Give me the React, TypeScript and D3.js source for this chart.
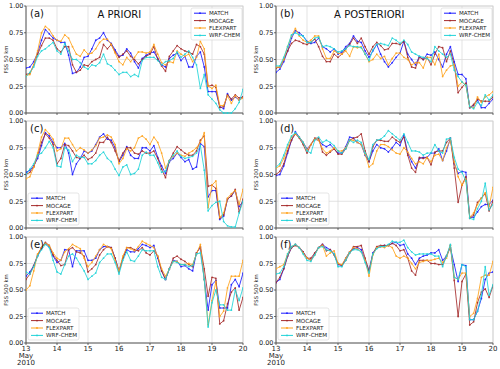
import React from "react";
import * as d3 from "d3";

// Time axis: 3-hourly values from 13 May 00 UTC to 20 May 00 UTC
const dayTicks = [13, 14, 15, 16, 17, 18, 19, 20];
const yTicks = [0, 0.25, 0.5, 0.75, 1.0];
const seriesNames = ["MATCH", "MOCAGE", "FLEXPART", "WRF-CHEM"];
const seriesColors = ["#1a1aff", "#a52a2a", "#ffa21a", "#1fd3d8"];
const panelLabels = ["(a)", "(b)", "(c)", "(d)", "(e)", "(f)"];
const panelYLabels = ["FSS 50 km", "FSS 50 km", "FSS 200 km", "FSS 200 km", "FSS 500 km", "FSS 500 km"];
const columnTitles = ["A PRIORI", "A POSTERIORI"];

// (a) A PRIORI, 50 km
const aMatch = [0.42,0.43,0.48,0.56,0.68,0.78,0.74,0.70,0.68,0.66,0.66,0.54,0.37,0.38,0.43,0.52,0.53,0.60,0.68,0.70,0.75,0.68,0.65,0.59,0.53,0.54,0.60,0.56,0.48,0.42,0.51,0.54,0.56,0.57,0.51,0.45,0.43,0.51,0.54,0.56,0.49,0.53,0.43,0.43,0.53,0.57,0.43,0.20,0.20,0.20,0.06,0.04,0.18,0.12,0.15,0.12,0.15];
const aMocage = [0.36,0.37,0.45,0.55,0.63,0.70,0.70,0.68,0.60,0.57,0.62,0.62,0.45,0.38,0.40,0.45,0.44,0.48,0.50,0.52,0.64,0.60,0.64,0.57,0.52,0.55,0.58,0.53,0.50,0.46,0.50,0.53,0.55,0.62,0.50,0.44,0.39,0.53,0.58,0.63,0.60,0.58,0.57,0.55,0.64,0.62,0.55,0.25,0.26,0.24,0.05,0.06,0.17,0.13,0.17,0.14,0.15];
const aFlex = [0.35,0.36,0.45,0.58,0.75,0.81,0.78,0.72,0.68,0.67,0.73,0.70,0.62,0.55,0.53,0.59,0.55,0.56,0.60,0.66,0.69,0.69,0.64,0.56,0.48,0.45,0.52,0.48,0.52,0.57,0.57,0.56,0.57,0.64,0.55,0.47,0.45,0.48,0.47,0.58,0.55,0.53,0.55,0.48,0.52,0.67,0.60,0.25,0.23,0.26,0.07,0.07,0.16,0.09,0.16,0.12,0.14];
const aWrf = [0.34,0.38,0.43,0.53,0.58,0.60,0.63,0.66,0.58,0.55,0.65,0.58,0.50,0.50,0.47,0.43,0.41,0.45,0.44,0.47,0.55,0.46,0.44,0.40,0.36,0.38,0.38,0.34,0.36,0.34,0.49,0.52,0.52,0.52,0.49,0.45,0.48,0.49,0.51,0.57,0.52,0.55,0.58,0.52,0.45,0.23,0.36,0.17,0.13,0.09,0.03,0.00,0.00,0.00,0.04,0.10,0.22];

// (b) A POSTERIORI, 50 km
const bMatch = [0.38,0.41,0.48,0.58,0.70,0.77,0.75,0.72,0.67,0.65,0.66,0.70,0.62,0.60,0.57,0.60,0.55,0.57,0.62,0.65,0.72,0.67,0.66,0.58,0.52,0.58,0.64,0.55,0.48,0.43,0.47,0.52,0.56,0.67,0.55,0.50,0.45,0.53,0.50,0.55,0.54,0.57,0.50,0.43,0.55,0.62,0.48,0.36,0.36,0.32,0.05,0.07,0.12,0.05,0.05,0.09,0.13];
const bMocage = [0.42,0.43,0.50,0.58,0.65,0.68,0.67,0.65,0.64,0.66,0.69,0.62,0.53,0.48,0.48,0.55,0.52,0.55,0.60,0.64,0.70,0.65,0.70,0.62,0.55,0.62,0.66,0.63,0.59,0.60,0.65,0.65,0.64,0.67,0.52,0.43,0.42,0.52,0.50,0.52,0.45,0.55,0.62,0.61,0.48,0.58,0.45,0.19,0.24,0.28,0.05,0.08,0.13,0.11,0.11,0.11,0.15];
const bFlex = [0.43,0.43,0.50,0.62,0.72,0.79,0.72,0.68,0.66,0.68,0.72,0.72,0.60,0.51,0.51,0.58,0.56,0.55,0.58,0.53,0.62,0.61,0.62,0.55,0.48,0.50,0.55,0.51,0.53,0.45,0.51,0.56,0.56,0.52,0.50,0.45,0.47,0.47,0.42,0.52,0.52,0.45,0.55,0.34,0.40,0.44,0.45,0.25,0.29,0.26,0.06,0.05,0.15,0.10,0.15,0.17,0.20];
const bWrf = [0.44,0.44,0.52,0.62,0.73,0.75,0.73,0.72,0.66,0.66,0.70,0.71,0.62,0.63,0.62,0.60,0.57,0.58,0.60,0.63,0.62,0.62,0.61,0.55,0.49,0.59,0.64,0.65,0.64,0.63,0.70,0.68,0.65,0.68,0.64,0.57,0.55,0.53,0.52,0.51,0.48,0.62,0.58,0.55,0.52,0.55,0.40,0.34,0.29,0.26,0.06,0.04,0.10,0.07,0.17,0.12,0.17];

// (c) A PRIORI, 200 km
const cMatch = [0.52,0.54,0.58,0.65,0.77,0.89,0.86,0.80,0.75,0.75,0.79,0.70,0.50,0.60,0.65,0.72,0.70,0.72,0.78,0.85,0.88,0.83,0.82,0.75,0.62,0.68,0.76,0.68,0.65,0.65,0.75,0.75,0.72,0.77,0.66,0.58,0.51,0.62,0.65,0.70,0.66,0.62,0.64,0.55,0.57,0.79,0.76,0.29,0.35,0.35,0.08,0.11,0.27,0.30,0.35,0.20,0.25];
const cMocage = [0.50,0.52,0.57,0.68,0.80,0.88,0.84,0.78,0.60,0.65,0.78,0.77,0.72,0.66,0.65,0.68,0.64,0.66,0.70,0.80,0.80,0.85,0.80,0.72,0.63,0.70,0.75,0.75,0.70,0.69,0.72,0.70,0.70,0.72,0.65,0.55,0.47,0.63,0.70,0.76,0.73,0.70,0.68,0.68,0.72,0.82,0.86,0.39,0.40,0.37,0.09,0.12,0.27,0.30,0.36,0.15,0.27];
const cFlex = [0.46,0.48,0.57,0.70,0.85,0.92,0.88,0.83,0.72,0.74,0.84,0.84,0.78,0.72,0.75,0.73,0.70,0.73,0.77,0.84,0.85,0.87,0.85,0.78,0.60,0.65,0.74,0.72,0.75,0.84,0.86,0.83,0.78,0.85,0.80,0.70,0.56,0.63,0.67,0.70,0.68,0.67,0.70,0.72,0.75,0.80,0.89,0.19,0.40,0.44,0.10,0.14,0.28,0.32,0.35,0.22,0.36];
const cWrf = [0.50,0.55,0.60,0.68,0.70,0.75,0.81,0.75,0.58,0.57,0.75,0.73,0.62,0.68,0.66,0.66,0.60,0.60,0.63,0.68,0.71,0.65,0.62,0.55,0.49,0.57,0.59,0.50,0.51,0.55,0.68,0.71,0.68,0.68,0.61,0.52,0.53,0.63,0.68,0.72,0.67,0.65,0.66,0.67,0.70,0.77,0.54,0.16,0.21,0.24,0.25,0.06,0.02,0.01,0.01,0.14,0.25];

// (d) A POSTERIORI, 200 km
const dMatch = [0.49,0.50,0.58,0.70,0.82,0.90,0.85,0.80,0.74,0.78,0.83,0.82,0.78,0.76,0.78,0.74,0.70,0.70,0.76,0.85,0.84,0.80,0.78,0.68,0.62,0.72,0.78,0.75,0.74,0.71,0.75,0.80,0.77,0.87,0.70,0.62,0.56,0.65,0.66,0.66,0.70,0.70,0.74,0.63,0.72,0.84,0.60,0.51,0.53,0.52,0.10,0.10,0.15,0.20,0.22,0.22,0.26];
const dMocage = [0.50,0.53,0.60,0.72,0.82,0.88,0.84,0.78,0.70,0.78,0.84,0.84,0.71,0.68,0.71,0.74,0.69,0.69,0.74,0.82,0.84,0.85,0.88,0.72,0.62,0.76,0.82,0.82,0.81,0.81,0.85,0.82,0.80,0.85,0.68,0.56,0.52,0.66,0.65,0.66,0.59,0.71,0.72,0.72,0.80,0.84,0.56,0.24,0.40,0.48,0.09,0.12,0.24,0.28,0.32,0.16,0.25];
const dFlex = [0.56,0.58,0.65,0.75,0.85,0.88,0.85,0.80,0.73,0.78,0.83,0.82,0.74,0.70,0.72,0.75,0.72,0.72,0.75,0.82,0.82,0.80,0.78,0.69,0.57,0.60,0.72,0.78,0.78,0.76,0.73,0.70,0.69,0.75,0.71,0.65,0.60,0.62,0.60,0.66,0.62,0.68,0.69,0.63,0.75,0.82,0.62,0.48,0.40,0.46,0.10,0.14,0.22,0.28,0.33,0.20,0.38];
const dWrf = [0.57,0.60,0.68,0.78,0.86,0.89,0.85,0.80,0.72,0.70,0.82,0.85,0.80,0.82,0.80,0.77,0.72,0.70,0.74,0.82,0.80,0.82,0.80,0.70,0.64,0.78,0.82,0.83,0.86,0.91,0.88,0.85,0.82,0.88,0.80,0.72,0.72,0.71,0.68,0.70,0.70,0.78,0.72,0.70,0.83,0.84,0.66,0.55,0.52,0.44,0.09,0.08,0.18,0.25,0.42,0.17,0.22];

// (e) A PRIORI, 500 km
const eMatch = [0.63,0.67,0.73,0.82,0.90,0.94,0.91,0.82,0.76,0.78,0.88,0.88,0.72,0.87,0.87,0.87,0.78,0.78,0.80,0.88,0.91,0.91,0.90,0.80,0.68,0.80,0.88,0.86,0.86,0.89,0.93,0.92,0.90,0.92,0.80,0.68,0.60,0.70,0.78,0.77,0.72,0.73,0.70,0.68,0.85,0.90,0.60,0.31,0.55,0.59,0.33,0.33,0.33,0.55,0.60,0.53,0.66];
const eMocage = [0.60,0.65,0.73,0.83,0.90,0.95,0.92,0.83,0.78,0.73,0.74,0.88,0.90,0.86,0.85,0.82,0.67,0.70,0.74,0.83,0.88,0.91,0.90,0.80,0.67,0.80,0.90,0.90,0.88,0.87,0.90,0.85,0.83,0.87,0.82,0.68,0.60,0.70,0.80,0.82,0.79,0.77,0.74,0.72,0.85,0.91,0.70,0.44,0.62,0.61,0.18,0.21,0.37,0.48,0.52,0.31,0.43];
const eFlex = [0.50,0.54,0.68,0.84,0.90,0.94,0.92,0.85,0.80,0.78,0.86,0.89,0.93,0.91,0.89,0.80,0.72,0.76,0.82,0.88,0.93,0.91,0.89,0.78,0.68,0.82,0.90,0.89,0.87,0.91,0.96,0.94,0.92,0.90,0.82,0.70,0.63,0.70,0.77,0.77,0.74,0.74,0.75,0.74,0.84,0.93,0.60,0.17,0.40,0.58,0.25,0.30,0.52,0.63,0.63,0.63,0.78];
const eWrf = [0.67,0.65,0.72,0.82,0.88,0.93,0.90,0.78,0.67,0.65,0.74,0.82,0.84,0.80,0.74,0.68,0.60,0.63,0.66,0.76,0.80,0.84,0.84,0.76,0.65,0.78,0.86,0.78,0.77,0.82,0.88,0.87,0.87,0.87,0.72,0.62,0.60,0.70,0.77,0.76,0.74,0.74,0.72,0.73,0.84,0.85,0.60,0.15,0.38,0.50,0.36,0.36,0.31,0.31,0.50,0.40,0.52];

// (f) A POSTERIORI, 500 km
const fMatch = [0.57,0.60,0.70,0.82,0.90,0.93,0.90,0.86,0.80,0.78,0.84,0.90,0.93,0.90,0.88,0.84,0.74,0.73,0.80,0.86,0.89,0.90,0.88,0.78,0.68,0.85,0.90,0.91,0.92,0.92,0.94,0.95,0.92,0.93,0.84,0.80,0.74,0.80,0.82,0.83,0.85,0.85,0.88,0.78,0.82,0.90,0.74,0.58,0.74,0.73,0.22,0.22,0.30,0.42,0.60,0.66,0.67];
const fMocage = [0.57,0.62,0.70,0.82,0.90,0.92,0.90,0.86,0.80,0.80,0.85,0.90,0.93,0.87,0.88,0.83,0.75,0.73,0.78,0.85,0.91,0.91,0.92,0.80,0.68,0.84,0.91,0.92,0.92,0.92,0.94,0.92,0.87,0.88,0.80,0.68,0.64,0.78,0.78,0.78,0.75,0.75,0.74,0.74,0.82,0.92,0.59,0.25,0.58,0.65,0.17,0.20,0.38,0.48,0.51,0.43,0.54];
const fFlex = [0.70,0.72,0.74,0.84,0.91,0.93,0.90,0.85,0.80,0.78,0.83,0.90,0.92,0.82,0.85,0.87,0.75,0.74,0.80,0.86,0.90,0.89,0.86,0.78,0.63,0.83,0.90,0.91,0.90,0.92,0.90,0.82,0.80,0.82,0.80,0.75,0.70,0.76,0.77,0.78,0.78,0.79,0.80,0.76,0.80,0.92,0.62,0.60,0.66,0.66,0.25,0.28,0.42,0.62,0.64,0.64,0.77];
const fWrf = [0.65,0.66,0.72,0.84,0.91,0.93,0.90,0.84,0.78,0.77,0.83,0.90,0.91,0.88,0.87,0.84,0.72,0.72,0.78,0.85,0.88,0.88,0.86,0.76,0.66,0.84,0.89,0.91,0.91,0.93,0.96,0.95,0.95,0.97,0.90,0.86,0.83,0.84,0.84,0.84,0.84,0.82,0.82,0.72,0.82,0.93,0.62,0.60,0.74,0.72,0.22,0.22,0.30,0.45,0.72,0.45,0.55];

const panelSeries = [
  [aMatch, aMocage, aFlex, aWrf],
  [bMatch, bMocage, bFlex, bWrf],
  [cMatch, cMocage, cFlex, cWrf],
  [dMatch, dMocage, dFlex, dWrf],
  [eMatch, eMocage, eFlex, eWrf],
  [fMatch, fMocage, fFlex, fWrf],
];

const STEP_DAYS = 3 / 24;
const FONT = "DejaVu Sans, Liberation Sans, sans-serif";

const colX = [[26, 243], [276, 493]];
const rowY = [[6, 113], [121, 228], [237, 343]];

function Panel({ idx }: { idx: number }) {
  const col = idx % 2;
  const row = Math.floor(idx / 2);
  const [x0, x1] = colX[col];
  const [y0, y1] = rowY[row];
  const x = d3.scaleLinear().domain([13, 20]).range([x0, x1]);
  const y = d3.scaleLinear().domain([0, 1]).range([y1, y0]);
  const series = panelSeries[idx];
  const line = d3
    .line<number>()
    .x((_, i) => x(13 + i * STEP_DAYS))
    .y((d) => y(d));
  const legendTop = row === 0;
  const lw = 51, lh = 32;
  const lx = legendTop ? x1 - lw - 1 : x0 + 2;
  const ly = legendTop ? y0 + 2 : y1 - lh - 3;
  const w = x1 - x0;
  return (
    <g>
      <rect x={x0} y={y0} width={w} height={y1 - y0} fill="#fff" />
      {dayTicks.map((t) => (
        <line key={"gx" + t} x1={x(t)} x2={x(t)} y1={y0} y2={y1} stroke="#dcdcdc" strokeWidth={0.8} />
      ))}
      {yTicks.map((t) => (
        <line key={"gy" + t} x1={x0} x2={x1} y1={y(t)} y2={y(t)} stroke="#dcdcdc" strokeWidth={0.8} />
      ))}
      <rect x={x0} y={y0} width={w} height={y1 - y0} fill="none" stroke="#cfcfcf" strokeWidth={0.8} />
      <line x1={x0} x2={x0} y1={y0} y2={y1} stroke="#444" strokeWidth={0.8} />
      <line x1={x0} x2={x1} y1={y1} y2={y1} stroke="#444" strokeWidth={0.8} />
      {yTicks.map((t) => (
        <g key={"yt" + t}>
          <line x1={x0 - 2} x2={x0} y1={y(t)} y2={y(t)} stroke="#444" strokeWidth={0.8} />
          <text x={x0 - 2.5} y={y(t)} dy="0.35em" textAnchor="end" fontSize={6.5} fontFamily={FONT} fill="#222">
            {t.toFixed(2)}
          </text>
        </g>
      ))}
      {dayTicks.map((t) => (
        <line key={"xt" + t} x1={x(t)} x2={x(t)} y1={y1} y2={y1 + 2} stroke="#444" strokeWidth={0.8} />
      ))}
      {row === 2 &&
        dayTicks.map((t) => (
          <text key={"xl" + t} x={x(t)} y={y1 + 7.5} textAnchor="middle" fontSize={7} fontFamily={FONT} fill="#222">
            {String(t)}
          </text>
        ))}
      {row === 2 && (
        <g fontSize={7} fontFamily={FONT} fill="#222" textAnchor="middle">
          <text x={x(13)} y={y1 + 14.5}>May</text>
          <text x={x(13)} y={y1 + 21.5}>2010</text>
        </g>
      )}
      <text
        transform={`translate(${x0 - 18},${(y0 + y1) / 2}) rotate(-90)`}
        textAnchor="middle"
        fontSize={5.3}
        fontFamily={FONT}
        fill="#222"
      >
        {panelYLabels[idx]}
      </text>
      <g clipPath={`url(#clip${idx})`}>
        {series.map((s, k) => (
          <g key={"s" + k}>
            <path d={line(s) || ""} fill="none" stroke={seriesColors[k]} strokeWidth={1} strokeOpacity={0.85} />
            {s.map((v, i) => (
              <circle key={i} cx={x(13 + i * STEP_DAYS)} cy={y(v)} r={0.9} fill={seriesColors[k]} fillOpacity={0.85} />
            ))}
          </g>
        ))}
      </g>
      <text x={x0 + 4} y={y0 + 11} fontSize={10} fontFamily={FONT} fill="#111">
        {panelLabels[idx]}
      </text>
      {row === 0 && (
        <text x={x0 + w * 0.43} y={y0 + 12} textAnchor="middle" fontSize={10} fontFamily={FONT} fill="#111">
          {columnTitles[col]}
        </text>
      )}
      <g>
        <rect x={lx} y={ly} width={lw} height={lh} rx={2} fill="#fff" fillOpacity={0.85} stroke="#d5d5d5" strokeWidth={0.6} />
        {seriesNames.map((n, k) => {
          const yy = ly + 5.2 + k * 7.4;
          return (
            <g key={n}>
              <line x1={lx + 3} x2={lx + 15} y1={yy} y2={yy} stroke={seriesColors[k]} strokeWidth={1} />
              <circle cx={lx + 9} cy={yy} r={0.9} fill={seriesColors[k]} />
              <text x={lx + 18} y={yy} dy="0.35em" fontSize={5.6} fontFamily={FONT} fill="#222">
                {n}
              </text>
            </g>
          );
        })}
      </g>
    </g>
  );
}

export default function App() {
  return (
    <svg width={500} height={369} style={{ position: "absolute", left: 0, top: 0, background: "#fff" }}>
      <defs>
        {panelSeries.map((_, idx) => {
          const col = idx % 2;
          const row = Math.floor(idx / 2);
          const [x0, x1] = colX[col];
          const [y0, y1] = rowY[row];
          return (
            <clipPath id={"clip" + idx} key={idx}>
              <rect x={x0} y={y0 - 1} width={x1 - x0} height={y1 - y0 + 2} />
            </clipPath>
          );
        })}
      </defs>
      <rect width={500} height={369} fill="#fff" />
      {panelSeries.map((_, idx) => (
        <Panel key={idx} idx={idx} />
      ))}
    </svg>
  );
}
